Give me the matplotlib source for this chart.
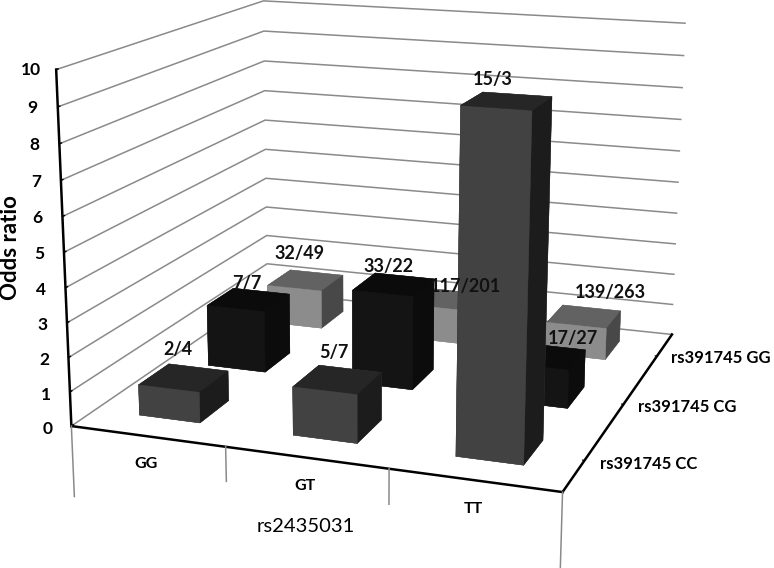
import numpy as np
import matplotlib
matplotlib.use("Agg")
import matplotlib.pyplot as plt
from matplotlib.transforms import ScaledTranslation
from mpl_toolkits.mplot3d import Axes3D  # noqa

plt.rcParams['font.family'] = ['Lato', 'DejaVu Sans']

x_categories = ['GG', 'GT', 'TT']
y_categories = ['rs391745 CC', 'rs391745 CG', 'rs391745 GG']
cc_values = [0.9, 1.4, 9.5]
cg_values = [1.9, 2.85, 1.15]
gg_values = [1.25, 1.1, 1.0]
cc_labels = ['2/4', '5/7', '15/3']
cg_labels = ['7/7', '33/22', '17/27']
gg_labels = ['32/49', '117/201', '139/263']
z_ticks = list(range(0, 11))

W, H = 774, 568
fig = plt.figure(figsize=(W / 100, H / 100), dpi=100)
ax = fig.add_axes([0, -(W - H) / 2 / H, 1, W / H], projection='3d')
ax.apply_aspect()


def nudge(text, dx_px, dy_px):
    """Draw an axis text some pixels (y upward) from where mplot3d puts it."""
    tr = ax.transData + ScaledTranslation(dx_px / 100, dy_px / 100, fig.dpi_scale_trans)
    text.get_transform = lambda: tr


# camera calibration: world box corners (x, y, z) seen at picture pixels
calib_world = np.array([[0, 0, 0], [3, 0, 0], [3, 3, 0], [0, 3, 0],
                        [0, 0, 10], [3, 3, 10], [0, 3, 10],
                        [0, 0, 5], [3, 3, 5], [0, 3, 5]], float)
calib_px = np.array([[72, 427], [562, 492], [673, 334], [267, 291],
                     [56, 69], [686, 23], [264, 1],
                     [64, 252], [678, 183], [265, 150]], float)
rows, rhs = [], []
for (X, Y, Z), (u, v) in zip(calib_world, calib_px):
    rows.append([X, Y, Z, 1, 0, 0, 0, 0, -u * X, -u * Y, -u * Z]); rhs.append(u)
    rows.append([0, 0, 0, 0, X, Y, Z, 1, -v * X, -v * Y, -v * Z]); rhs.append(v)
sol = np.linalg.lstsq(np.array(rows), np.array(rhs), rcond=None)[0]
P = np.append(sol, 1).reshape(3, 4)
to_data = np.zeros((3, 3))
d0 = ax.transData.inverted().transform([(0, H), (W, H), (0, 0)])
to_data[0] = [(d0[1, 0] - d0[0, 0]) / W, 0, d0[0, 0]]
to_data[1] = [0, (d0[2, 1] - d0[0, 1]) / H, d0[0, 1]]
to_data[2] = [0, 0, 1]
Pd = to_data @ P
M = np.array([Pd[0], Pd[1], [0, 0, 0, -1.0], Pd[2]])
ax.get_proj = lambda: M
ax.M = M

ax.set_xlim(0, 3, view_margin=0)
ax.set_ylim(0, 3, view_margin=0)
ax.set_zlim(0, 10, view_margin=0)

for axis in (ax.xaxis, ax.yaxis, ax.zaxis):
    axis.set_pane_color((1, 1, 1, 0))
    axis.pane.set_edgecolor((1, 1, 1, 0))
    axis.line.set_color('black')
    axis.line.set_linewidth(1.8)
ax.grid(True)
ax.xaxis._axinfo['grid']['linewidth'] = 0
ax.yaxis._axinfo['grid']['linewidth'] = 0
ax.zaxis._axinfo['grid'].update(color='#8a8a8a', linewidth=1.1)
ax.xaxis._axinfo['tick'].update(inward_factor=0, outward_factor=0)
ax.yaxis._axinfo['tick'].update(inward_factor=0, outward_factor=0.05)
ax.zaxis._axinfo['tick'].update(inward_factor=0, outward_factor=0.1, linewidth={True: 1.0, False: 1.0}, color='#8a8a8a')

ax.set_xticks([0.5, 1.5, 2.5], x_categories)
ax.set_yticks([0.5, 1.5, 2.5], y_categories)
ax.set_zticks(z_ticks)
ax.zaxis.set_ticks_position('lower')
ax.zaxis.set_label_position('lower')
ax.tick_params(axis='x', labelsize=11.5, pad=5)
ax.tick_params(axis='y', labelsize=12, pad=0)
ax.tick_params(axis='z', labelsize=12.5, pad=2)
for t in ax.get_xticklabels() + ax.get_yticklabels() + ax.get_zticklabels():
    t.set_fontweight('bold')
for t in ax.get_xticklabels():
    t.set_ha('left')
    nudge(t, -3, 3)
for t in ax.get_yticklabels():
    t.set_ha('left')
    t.set_va('bottom')
    nudge(t, 2, 0)
for t in ax.get_zticklabels():
    t.set_va('bottom')
    nudge(t, 0, -7)
ax.xaxis.set_rotate_label(False)
ax.zaxis.set_rotate_label(False)
ax.set_xlabel('rs2435031', fontsize=14.5, labelpad=20, rotation=0, color='black')
ax.set_zlabel('Odds ratio', fontsize=16, fontweight='bold', rotation=90, labelpad=6)
nudge(ax.xaxis.label, 27, 9)
nudge(ax.zaxis.label, 14, 12)

# dividers hanging below the floor edge
for xv, drop in zip([0, 1, 2, 3], [2.1, 1.0, 1.0, 2.1]):
    ax.plot([xv, xv], [0, 0], [0, -drop], color='#8a8a8a', lw=1.1)

width, depth = 0.4, 0.42
row_shift, col_shift = 0.02, -0.005
front_cols = ['#424242', '#141414', '#8c8c8c']
top_cols = ['#262626', '#0b0b0b', '#626262']
side_cols = ['#1c1c1c', '#0c0c0c', '#484848']
series = [cc_values, cg_values, gg_values]
labels = [cc_labels, cg_labels, gg_labels]
label_dx = [[-0.03, -0.02, -0.08], [-0.01, -0.03, 0.17], [-0.04, 0.17, 0.17]]
label_dz = [[0.86, 0.82, 0.55], [0.53, 0.58, 0.65], [0.92, 0.53, 0.90]]
for r in (2, 1, 0):
    for c in range(3):
        faces = [front_cols[r], top_cols[r], front_cols[r], front_cols[r], side_cols[r], side_cols[r]]
        ax.bar3d(c + 0.5 + col_shift - width / 2, r + 0.5 + row_shift - depth / 2, 0, width, depth, series[r][c],
                 color=faces, shade=False, edgecolor=faces, linewidth=0.3)
        ax.text(c + 0.5 + label_dx[r][c], r + 0.5, series[r][c] + label_dz[r][c], labels[r][c],
                ha='center', va='center', fontsize=13, fontweight='bold', color='#111111', zorder=1000)

fig.savefig('out.png', dpi=100)
